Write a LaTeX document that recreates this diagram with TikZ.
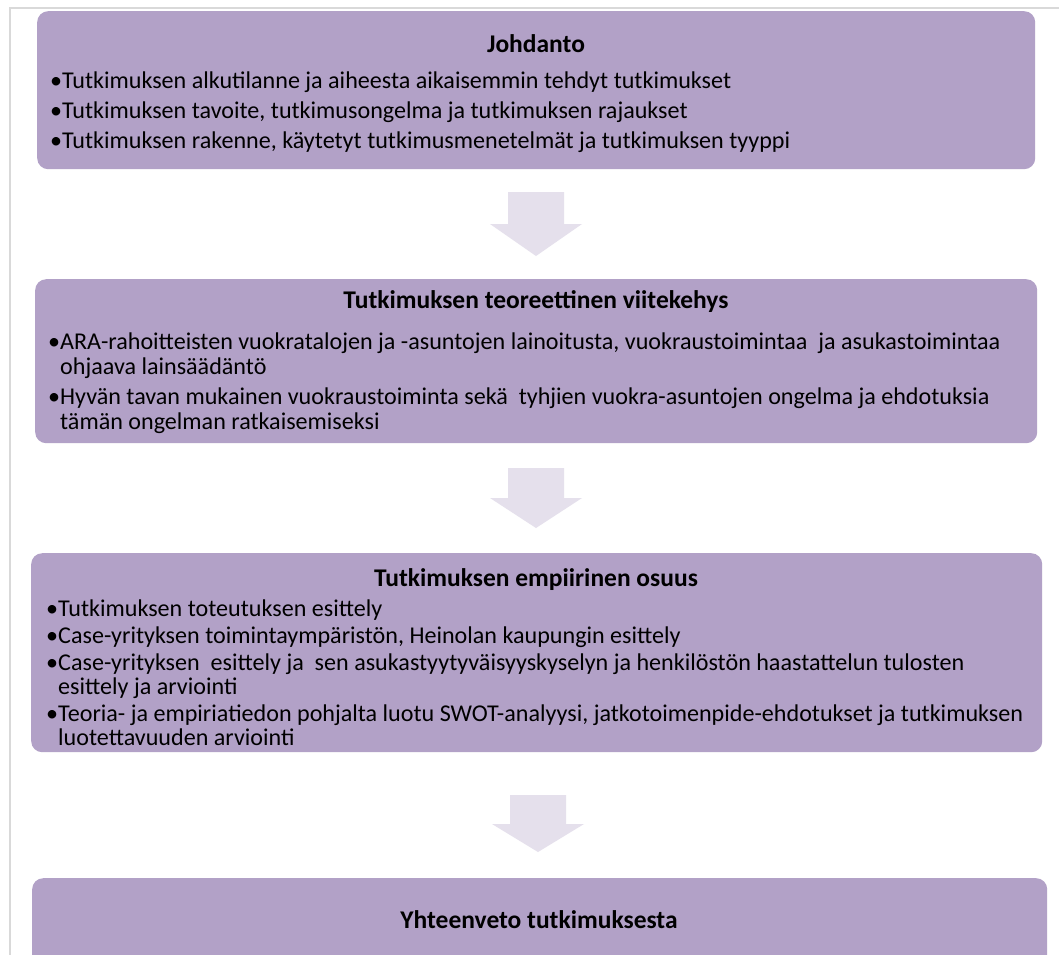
\documentclass[tikz,border=0pt]{standalone}
\usepackage{fontspec}
\setmainfont{Carlito}
\definecolor{boxfill}{HTML}{B2A1C7}
\definecolor{arrowfill}{HTML}{E5E0EC}
\definecolor{framegray}{HTML}{D9D9D9}
\newcommand{\blockarrow}[4]{%
  \fill[arrowfill] ({#1-28},#2) -- ({#1+28},#2) -- ({#1+28},#3) -- ({#1+46},#3)
    -- (#1,#4) -- ({#1-46},#3) -- ({#1-28},#3) -- cycle;}
\begin{document}
\begin{tikzpicture}[x=1pt,y=-1pt,
  box/.style={fill=boxfill, draw=none, rounded corners=11pt, inner sep=0pt, anchor=north west},
  ttl/.style={font=\fontsize{25.5}{30}\selectfont\bfseries, inner sep=0pt, anchor=base},
  itm/.style={font=\fontsize{24.1}{28}\selectfont, inner sep=0pt, anchor=base west}]
\clip (0,0) rectangle (1059,954);
\fill[white] (0,0) rectangle (1059,954);
\draw[framegray, line width=1.5pt] (10,960) -- (10,8) -- (1065,8);
% boxes
\node[box, minimum width=998pt, minimum height=158pt] (b1) at (37,11) {};
\node[box, minimum width=1002pt, minimum height=164pt] (b2) at (35,279) {};
\node[box, minimum width=1011pt, minimum height=199pt] (b3) at (31,553) {};
\node[box, minimum width=1015pt, minimum height=130pt] (b4) at (32,878) {};
% arrows
\blockarrow{536}{192}{224}{256}
\blockarrow{536}{468}{498}{528}
\blockarrow{538}{795}{824}{852}
% box 1
\node[ttl] (t1) at (536,52) {Johdanto};
\node[itm] (l11) at (50,88) {•Tutkimuksen alkutilanne ja aiheesta aikaisemmin tehdyt tutkimukset};
\node[itm] (l12) at (50,118) {•Tutkimuksen tavoite, tutkimusongelma ja tutkimuksen rajaukset};
\node[itm] (l13) at (50,148) {•Tutkimuksen rakenne, käytetyt tutkimusmenetelmät ja tutkimuksen tyyppi};
% box 2
\node[ttl] (t2) at (536,308) {Tutkimuksen teoreettinen viitekehys};
\node[itm] (l21) at (48,349) {•ARA-rahoitteisten vuokratalojen ja -asuntojen lainoitusta, vuokraustoimintaa\ \ ja asukastoimintaa};
\node[itm] (l22) at (48,374) {\phantom{•}ohjaava lainsäädäntö};
\node[itm] (l23) at (48,404) {•Hyvän tavan mukainen vuokraustoiminta sekä\ \ tyhjien vuokra-asuntojen ongelma ja ehdotuksia};
\node[itm] (l24) at (48,429) {\phantom{•}tämän ongelman ratkaisemiseksi};
% box 3
\node[ttl] (t3) at (536,586) {Tutkimuksen empiirinen osuus};
\node[itm] (l31) at (46,616) {•Tutkimuksen toteutuksen esittely};
\node[itm] (l32) at (46,643) {•Case-yrityksen toimintaympäristön, Heinolan kaupungin esittely};
\node[itm] (l33) at (46,670) {•Case-yrityksen\ \ esittely ja\ \ sen asukastyytyväisyyskyselyn ja henkilöstön haastattelun tulosten};
\node[itm] (l34) at (46,694) {\phantom{•}esittely ja arviointi};
\node[itm] (l35) at (46,721) {•Teoria- ja empiriatiedon pohjalta luotu SWOT-analyysi, jatkotoimenpide-ehdotukset ja tutkimuksen};
\node[itm] (l36) at (46,745) {\phantom{•}luotettavuuden arviointi};
% box 4
\node[ttl] (t4) at (539,928) {Yhteenveto tutkimuksesta};
\end{tikzpicture}
\end{document}
